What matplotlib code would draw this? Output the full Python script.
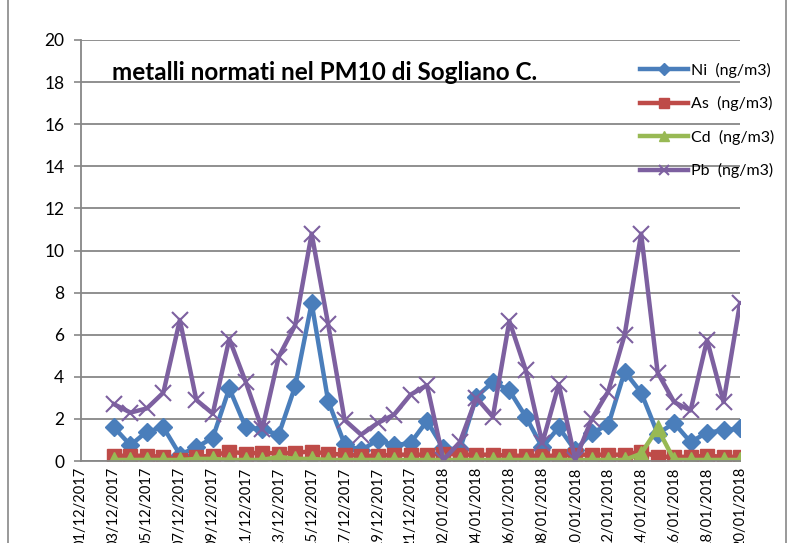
import numpy as np
import matplotlib
matplotlib.use("Agg")
import matplotlib.pyplot as plt
from matplotlib.patches import Rectangle

plt.rcParams['font.family'] = ['Lato', 'DejaVu Sans']

# dates on the category axis (01/12 and 02/12 have no data)
dates = ["%02d/12/2017" % d for d in range(1, 23)] + ["%02d/01/2018" % d for d in range(2, 21)]

nan = np.nan
ni = [nan, nan,
      1.6, 0.75, 1.4, 1.6, 0.3, 0.65, 1.1, 3.45, 1.6, 1.5, 1.25, 3.55, 7.5, 2.85,
      0.8, 0.5, 1.0, 0.75, 0.85, 1.9,
      0.6, 0.55, 3.05, 3.75, 3.35, 2.1, 0.65, 1.6, 0.5, 1.35, 1.7, 4.25, 3.25,
      1.3, 1.8, 0.9, 1.35, 1.45, 1.55]
as_ = [nan, nan,
       0.25, 0.25, 0.25, 0.2, 0.05, 0.2, 0.25, 0.45, 0.35, 0.4, 0.35, 0.4, 0.45, 0.35,
       0.3, 0.25, 0.25, 0.3, 0.3, 0.3,
       0.35, 0.3, 0.3, 0.3, 0.25, 0.25, 0.25, 0.25, 0.3, 0.3, 0.3, 0.3, 0.45,
       0.2, 0.2, 0.2, 0.25, 0.2, 0.2]
cd = [nan, nan,
      0.05, 0.05, 0.05, 0.05, 0.05, 0.1, 0.1, 0.05, 0.05, 0.05, 0.2, 0.1, 0.1, 0.05,
      0.05, 0.05, 0.05, 0.05, 0.05, 0.05,
      0.05, 0.05, 0.05, 0.05, 0.05, 0.05, 0.05, 0.05, 0.05, 0.05, 0.05, 0.05, 0.35,
      1.55, 0.05, 0.05, 0.05, 0.05, 0.05]
pb = [nan, nan,
      2.7, 2.3, 2.5, 3.25, 6.7, 2.9, 2.25, 5.8, 3.75, 1.5, 4.95, 6.45, 10.8, 6.5,
      1.95, 1.25, 1.8, 2.2, 3.15, 3.6,
      0.05, 0.9, 3.0, 2.1, 6.65, 4.3, 0.85, 3.65, 0.05, 2.0, 3.3, 6.0, 10.8,
      4.2, 2.8, 2.4, 5.75, 2.8, 7.5]

labels = ["Ni  (ng/m3)", "As  (ng/m3)", "Cd  (ng/m3)", "Pb  (ng/m3)"]

x = np.arange(len(dates))

fig = plt.figure(figsize=(7.95, 5.43), dpi=100)
ax = fig.add_axes([81/795, 82/543, 659/795, 421/543])

ax.plot(x, ni, color='#4A7EBB', lw=3.2, marker='D', ms=9, label=labels[0])
ax.plot(x, as_, color='#BE4B48', lw=3.2, marker='s', ms=10, label=labels[1])
ax.plot(x, cd, color='#98B954', lw=3.2, marker='^', ms=11, label=labels[2])
ax.plot(x, pb, color='#7D60A0', lw=3.2, marker='x', ms=11, mew=1.5, label=labels[3])

ax.set_xlim(0, 40)
ax.set_ylim(0, 20)
ax.set_yticks(range(0, 21, 2))
ax.yaxis.grid(True, color='#878787', lw=1.3)
ax.set_axisbelow(True)
ax.set_xticks(x[::2])
ax.set_xticklabels(dates[::2], rotation=90, fontsize=10.5)
ax.tick_params(axis='x', length=0, pad=4)
ax.tick_params(axis='y', length=5, width=1.2, color='#878787', labelsize=12.5, pad=7)
for s in ['top', 'right']:
    ax.spines[s].set_visible(False)
for s in ['left', 'bottom']:
    ax.spines[s].set_color('#878787')
    ax.spines[s].set_linewidth(1.3)

fig.text(112/795, 1 - 72/543, "metalli normati nel PM10 di Sogliano C.",
         fontsize=17.5, fontweight='bold', va='center', ha='left')

fig.legend(loc='upper left', bbox_to_anchor=(632/795, 1 - 55/543), frameon=False,
           fontsize=11.5, handlelength=3.0, handletextpad=0.2, labelspacing=1.15,
           borderpad=0, markerscale=0.65)

# outer chart frame (only the sides show)
fig.patches.append(Rectangle((8/795, -0.1), 778/795, 1.2, transform=fig.transFigure,
                             fill=False, edgecolor='#878787', lw=1.2))

fig.savefig("out.png", dpi=100)
